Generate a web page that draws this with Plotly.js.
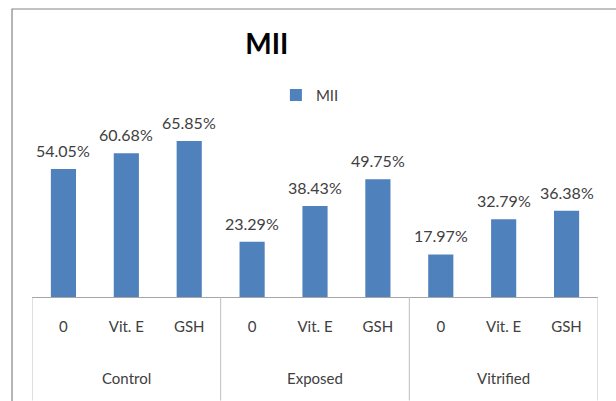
<!DOCTYPE html>
<html>
<head>
<meta charset="utf-8">
<script src="https://cdn.plot.ly/plotly-3.0.1.min.js"></script>
<style>html,body{margin:0;padding:0;background:#fff;}#chart{width:616px;height:401px;}</style>
</head>
<body>
<div id="chart"></div>
<script>
var groupNames = ["Control","Exposed","Vitrified"];
var groups = ["Control","Control","Control","Exposed","Exposed","Exposed","Vitrified","Vitrified","Vitrified"];
var treatments = ["0","Vit. E","GSH","0","Vit. E","GSH","0","Vit. E","GSH"];
var values = [54.05, 60.68, 65.85, 23.29, 38.43, 49.75, 17.97, 32.79, 36.38];
var seriesName = "MII";

var font = "Lato, 'Open Sans', sans-serif";
var idx = values.map(function(v, i){ return i; });

var trace = {
  type: "bar",
  name: seriesName,
  x: idx,
  y: values,
  marker: {color: "#4F81BD"},
  hoverinfo: "none",
  showlegend: true
};

// value labels
var annotations = values.map(function(v, i){
  return {x: i, y: v, xref: "x", yref: "y", text: v.toFixed(2) + "%",
          showarrow: false, yanchor: "bottom", yshift: 7,
          font: {family: font, size: 16, color: "#404040"}};
});
// group labels and dividers
var shapes = [];
groupNames.forEach(function(g, gi){
  var members = idx.filter(function(i){ return groups[i] === g; });
  var first = members[0], last = members[members.length - 1];
  annotations.push({x: (first + last) / 2, y: -0.483, xref: "x", yref: "paper", text: g,
                    showarrow: false, yanchor: "middle",
                    font: {family: font, size: 15, color: "#404040"}});
  shapes.push({type: "line", xref: "x", yref: "paper", x0: first - 0.5, x1: first - 0.5,
               y0: 0, y1: -0.62, line: {color: "#BFBFBF", width: 1}});
  if (gi === groupNames.length - 1) {
    shapes.push({type: "line", xref: "x", yref: "paper", x0: last + 0.5, x1: last + 0.5,
                 y0: 0, y1: -0.62, line: {color: "#BFBFBF", width: 1}});
  }
});
// outer chart frame
shapes.push({type: "rect", xref: "paper", yref: "paper", x0: -0.0353, x1: 1.2, y0: -1.5, y1: 1.7246,
             line: {color: "#868686", width: 1.2}, fillcolor: "rgba(0,0,0,0)", layer: "below"});

var layout = {
  width: 616, height: 401,
  margin: {l: 32, r: 18, t: 130, b: 104},
  paper_bgcolor: "#fff", plot_bgcolor: "#fff",
  font: {family: font, color: "#404040"},
  title: {text: "<b>MII</b>", x: 0.433, xanchor: "center", y: 0.89, yanchor: "middle",
          font: {family: font, size: 28, color: "#000"}},
  showlegend: true,
  legend: {x: 0.491, xanchor: "center", y: 1.208, yanchor: "middle", orientation: "h",
           font: {family: font, size: 15, color: "#404040"}},
  bargap: 0.6,
  xaxis: {range: [-0.5, values.length - 0.5], tickmode: "array", tickvals: idx, ticktext: treatments,
          showline: true, linecolor: "#A6A6A6", linewidth: 1, ticks: "", ticklabelstandoff: 16,
          tickfont: {family: font, size: 15, color: "#404040"}, showgrid: false, zeroline: false},
  yaxis: {range: [0, 70.5], visible: false, showgrid: false, zeroline: false},
  annotations: annotations,
  shapes: shapes
};
Plotly.newPlot("chart", [trace], layout, {displayModeBar: false, staticPlot: true});
</script>
</body>
</html>
